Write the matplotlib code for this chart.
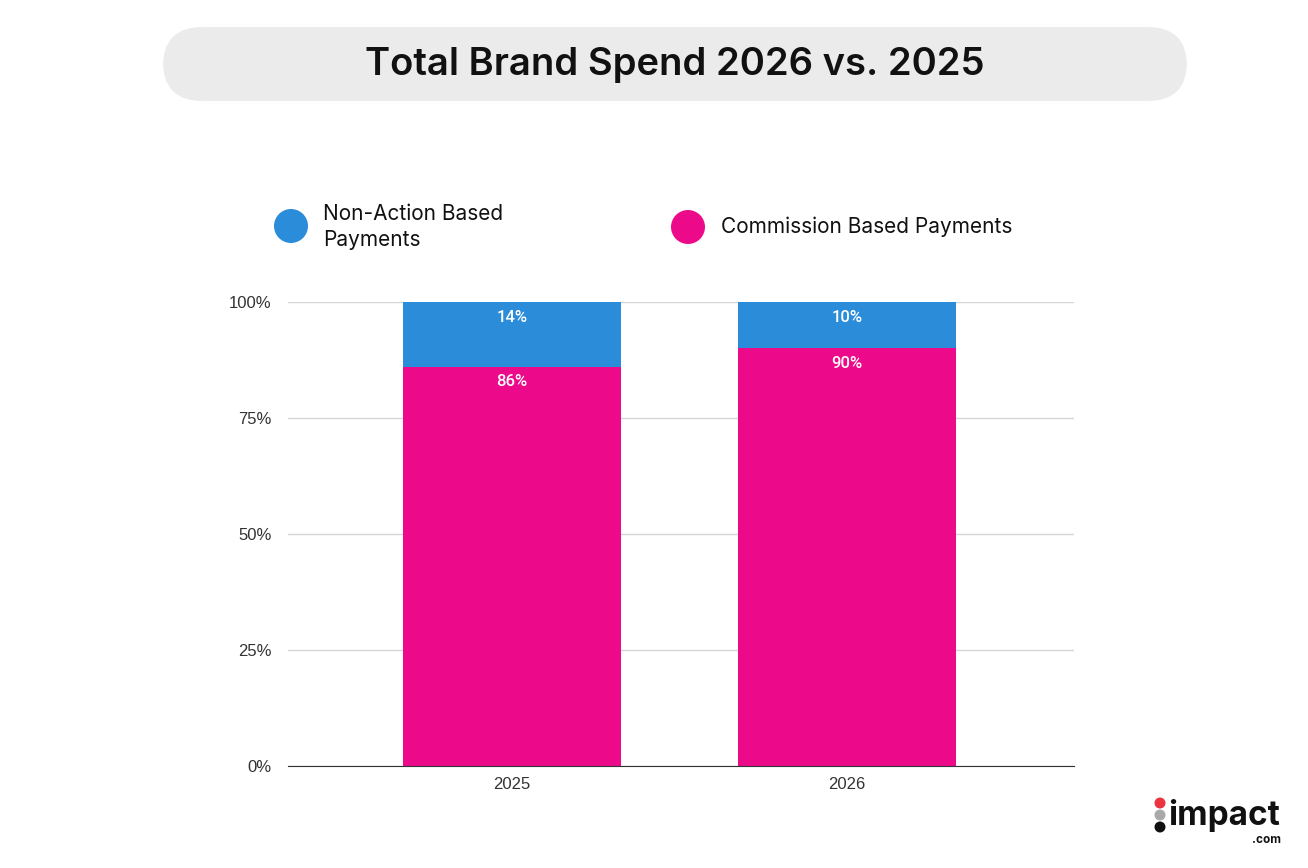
import matplotlib.pyplot as plt
from matplotlib.patches import FancyBboxPatch, Circle

# data
years = ["2025", "2026"]
commission = [86, 90]
non_action = [14, 10]
ticks = [0, 25, 50, 75, 100]
tick_labels = ["0%", "25%", "50%", "75%", "100%"]

blue = "#2B8CDA"
pink = "#EC0A8A"
W, H = 1308, 868


def fpt(px, py):
    # pixel position (from top-left) -> figure fraction
    return px / W, 1 - py / H


fig = plt.figure(figsize=(13.08, 8.68), dpi=100)

# title box
box = FancyBboxPatch((163 / W, 1 - 101 / H), 1024 / W, 74 / H,
                     boxstyle="round,pad=0,rounding_size=0.03",
                     transform=fig.transFigure, facecolor="#EBEBEB",
                     edgecolor="none", mutation_aspect=W / H)
fig.patches.append(box)
fig.text(*fpt(675, 65), "Total Brand Spend 2026 vs. 2025",
         ha="center", va="center", fontsize=27.5, fontweight=600,
         family="Inter", color="#111111")

ax = fig.add_axes([288 / W, 1 - 766 / H, 786 / W, 464 / H])
x = range(len(years))
ax.bar(x, commission, width=0.65, color=pink, zorder=3)
ax.bar(x, non_action, width=0.65, bottom=commission, color=blue, zorder=3)

for i in x:
    ax.text(i, commission[i] - 3.2, f"{commission[i]}%", ha="center", va="center",
            color="white", fontsize=12, family="Roboto", fontweight="medium")
    ax.text(i, 100 - 3.3, f"{non_action[i]}%", ha="center", va="center",
            color="white", fontsize=12, family="Roboto", fontweight="medium")

ax.set_xlim(-0.6687, 1.678)
ax.set_ylim(0, 100)
ax.set_yticks(ticks)
ax.set_yticklabels(tick_labels, family="Liberation Sans", fontsize=12, color="#333333")
ax.set_xticks(list(x))
ax.set_xticklabels(years, family="Liberation Sans", fontsize=12, color="#333333")
ax.tick_params(length=0, pad=12)
ax.tick_params(axis="x", pad=8)
ax.grid(axis="y", color="#D6D6D6", linewidth=1, zorder=0)
for s in ["top", "right", "left"]:
    ax.spines[s].set_visible(False)
ax.spines["bottom"].set_color("#333333")
ax.spines["bottom"].set_zorder(4)

# legend
for cx, cy, col in [(291, 226, blue), (688, 227, pink)]:
    c = Circle((cx / 100, (H - cy) / 100), 0.17, transform=fig.dpi_scale_trans,
               facecolor=col, edgecolor="none")
    fig.patches.append(c)
fig.text(*fpt(323, 227), "Non-Action Based\nPayments", ha="left", va="center",
         fontsize=15, family="Inter", color="#111111", linespacing=1.4)
fig.text(*fpt(721, 227), "Commission Based Payments", ha="left", va="center",
         fontsize=15, family="Inter", color="#111111")

# logo
for cy, col in [(803, "#EE3340"), (815, "#A9A9A9"), (827, "#111111")]:
    c = Circle((1160 / 100, (H - cy) / 100), 0.055, transform=fig.dpi_scale_trans,
               facecolor=col, edgecolor="none")
    fig.patches.append(c)
fig.text(*fpt(1168, 816), "impact", ha="left", va="center", fontsize=24,
         fontweight="bold", family="Inter", color="#111111")
fig.text(*fpt(1281, 840), ".com", ha="right", va="center", fontsize=8.5,
         fontweight="bold", family="Inter", color="#111111")

fig.savefig("out.png", dpi=100)
